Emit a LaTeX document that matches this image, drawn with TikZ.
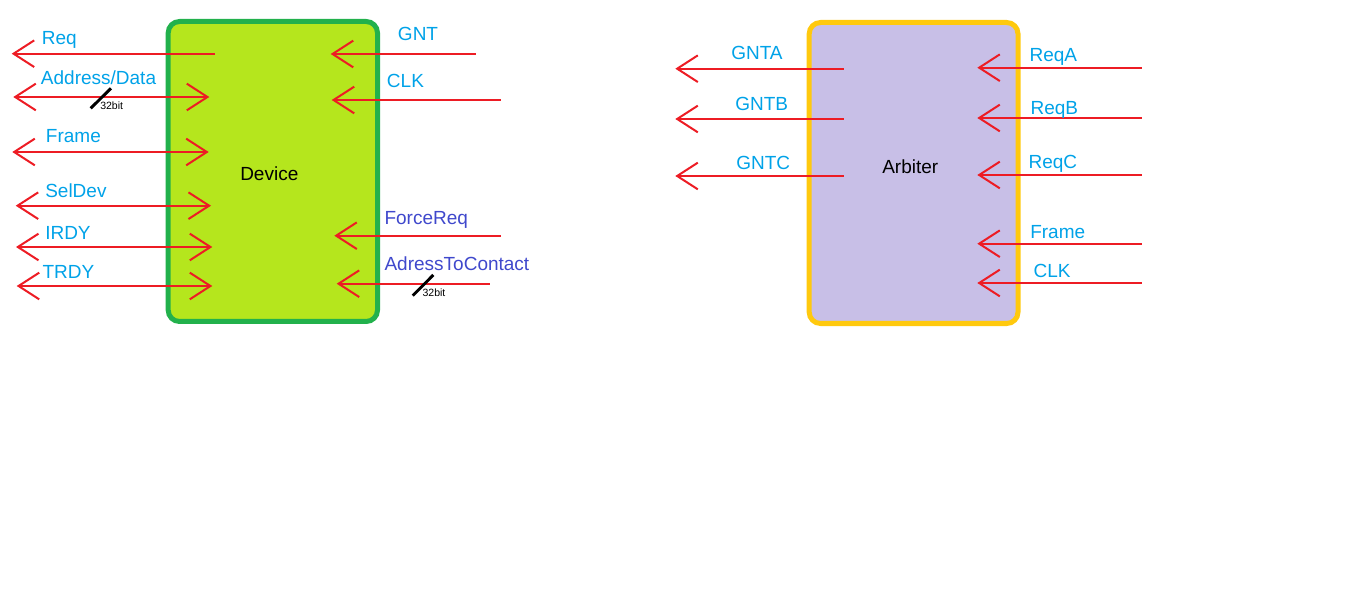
\documentclass[tikz,border=0pt]{standalone}
\usepackage{fontspec}
\setmainfont{Liberation Sans}
\usetikzlibrary{arrows.meta}
\definecolor{wirered}{HTML}{ED1C24}
\definecolor{sigblue}{HTML}{00A2E8}
\definecolor{sigindigo}{HTML}{3F48CC}
\definecolor{devline}{HTML}{22B14C}
\definecolor{devfill}{HTML}{B5E61D}
\definecolor{arbline}{HTML}{FFC90E}
\definecolor{arbfill}{HTML}{C8BFE7}
\tikzset{
  wire/.style = {draw=wirered, line width=1.5pt},
  busmark/.style = {draw=black, line width=2.2pt},
  siglabel/.style = {text=sigblue, anchor=base west, inner sep=0pt, font=\fontsize{14.25}{17}\selectfont},
  boxlabel/.style = {text=black, anchor=base west, inner sep=0pt, font=\fontsize{14.25}{17}\selectfont},
  buslabel/.style = {text=black, anchor=base west, inner sep=0pt, font=\fontsize{7.9}{9}\selectfont},
  devbox/.style = {draw=devline, fill=devfill, line width=3.75pt, rounded corners=8.5pt},
  arbbox/.style = {draw=arbline, fill=arbfill, line width=3.75pt, rounded corners=8.5pt}
}

\begin{document}
\begin{tikzpicture}[x=0.75pt, y=-0.75pt, >={Straight Barb[length=15.5pt, width=20pt]}]
\useasboundingbox (0,0) rectangle (1362,591);
\draw[devbox] (168.2,21.5) rectangle (377.5,321.5);
\draw[arbbox] (809.2,22.5) rectangle (1018,323.5);
\node[boxlabel] (device) at (240,181) {Device};
\node[boxlabel] (arbiter) at (882,174) {Arbiter};

\coordinate (reqL) at (11.7,53.7);
\coordinate (reqR) at (215,53.7);
\coordinate (adL) at (13.3,97);
\coordinate (adR) at (209.3,97);
\coordinate (frL) at (12.3,152);
\coordinate (frR) at (208.7,152);
\coordinate (selL) at (15.7,205.7);
\coordinate (selR) at (211,205.7);
\coordinate (irdyL) at (16,247);
\coordinate (irdyR) at (212.3,247);
\coordinate (trdyL) at (16.7,286);
\coordinate (trdyR) at (212.3,286);
\coordinate (gntL) at (330.7,54);
\coordinate (gntR) at (475.7,54);
\coordinate (clkL) at (331.7,100);
\coordinate (clkR) at (501,100);
\coordinate (frqL) at (334.3,235.7);
\coordinate (frqR) at (501,235.7);
\coordinate (atcL) at (336.7,283.7);
\coordinate (atcR) at (490,283.7);
\coordinate (adA) at (90.7,108.3);
\coordinate (adB) at (111,88.3);
\coordinate (atcA) at (412.7,295.7);
\coordinate (atcB) at (433.3,275);

\draw[wire, <-] (reqL) -- (reqR);
\draw[wire, <->] (adL) -- (adR);
\draw[wire, <->] (frL) -- (frR);
\draw[wire, <->] (selL) -- (selR);
\draw[wire, <->] (irdyL) -- (irdyR);
\draw[wire, <->] (trdyL) -- (trdyR);
\draw[wire, <-] (gntL) -- (gntR);
\draw[wire, <-] (clkL) -- (clkR);
\draw[wire, <-] (frqL) -- (frqR);
\draw[wire, <-] (atcL) -- (atcR);
\draw[busmark] (adA) -- (adB);
\draw[busmark] (atcA) -- (atcB);

\node[siglabel] (reqlbl) at (41.7,45) {Req};
\node[siglabel] (adlbl) at (40.7,84.3) {Address/Data};
\node[siglabel] (frlbl) at (45.7,142.7) {Frame};
\node[siglabel] (sellbl) at (45,197.7) {SelDev};
\node[siglabel] (irdylbl) at (45,240) {IRDY};
\node[siglabel] (trdylbl) at (42.3,278.7) {TRDY};
\node[siglabel] (gntlbl) at (397.7,40.3) {GNT};
\node[siglabel] (clklbl) at (386.7,87.7) {CLK};
\node[siglabel, text=sigindigo] (frqlbl) at (384.3,225) {ForceReq};
\node[siglabel, text=sigindigo] (atclbl) at (384.3,270.7) {AdressToContact};
\node[buslabel] (adbus) at (100,109.3) {32bit};
\node[buslabel] (atcbus) at (422.3,296.7) {32bit};

\coordinate (gntaL) at (675.3,68.7);
\coordinate (gntaR) at (844,68.7);
\coordinate (gntbL) at (675.3,119);
\coordinate (gntbR) at (844,119);
\coordinate (gntcL) at (675.3,176);
\coordinate (gntcR) at (844,176);
\coordinate (reqaL) at (977.3,67.7);
\coordinate (reqaR) at (1142,67.7);
\coordinate (reqbL) at (977.3,118);
\coordinate (reqbR) at (1142,118);
\coordinate (reqcL) at (977.3,175);
\coordinate (reqcR) at (1142,175);
\coordinate (afrL) at (977.3,243.7);
\coordinate (afrR) at (1142,243.7);
\coordinate (aclkL) at (977.3,283);
\coordinate (aclkR) at (1142,283);

\draw[wire, <-] (gntaL) -- (gntaR);
\draw[wire, <-] (gntbL) -- (gntbR);
\draw[wire, <-] (gntcL) -- (gntcR);
\draw[wire, <-] (reqaL) -- (reqaR);
\draw[wire, <-] (reqbL) -- (reqbR);
\draw[wire, <-] (reqcL) -- (reqcR);
\draw[wire, <-] (afrL) -- (afrR);
\draw[wire, <-] (aclkL) -- (aclkR);

\node[siglabel] (gntalbl) at (731,59.3) {GNTA};
\node[siglabel] (gntblbl) at (735,110.7) {GNTB};
\node[siglabel] (gntclbl) at (736,169.7) {GNTC};
\node[siglabel] (reqalbl) at (1029.3,62) {ReqA};
\node[siglabel] (reqblbl) at (1030.3,114.7) {ReqB};
\node[siglabel] (reqclbl) at (1028.3,168.3) {ReqC};
\node[siglabel] (afrlbl) at (1030,239) {Frame};
\node[siglabel] (aclklbl) at (1033.3,278) {CLK};
\end{tikzpicture}
\end{document}
